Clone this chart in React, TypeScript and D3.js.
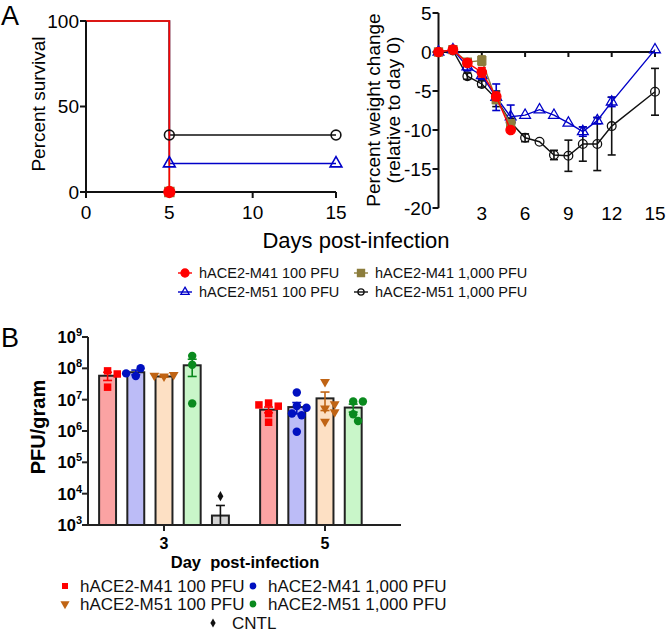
import * as d3 from "d3";

const FONT = "Arial, 'Liberation Sans', sans-serif";

// ---- Panel A: survival ----
const survXTicks = [0, 5, 10, 15];
const survYTicks = [0, 50, 100];
const survM41_100Days = [0, 5];
const survM41_100 = [100, 0];
const survM41_1000Days = [0, 5];
const survM41_1000 = [100, 0];
const survM51_100Days = [0, 5, 15];
const survM51_100 = [100, 16.7, 16.7];
const survM51_1000Days = [0, 5, 15];
const survM51_1000 = [100, 33.3, 33.3];

// ---- Panel A: weight change ----
const weightXTicks = [3, 6, 9, 12, 15];
const weightYTicks = [5, 0, -5, -10, -15, -20];
const weightDays = [0, 1, 2, 3, 4, 5, 6, 7, 8, 9, 10, 11, 12, 15];
const wM41_100 = [0, 0.3, -1.4, -2.6, -5.7, -10.0];
const wM41_100Err = [0, 0.4, 0.4, 0.6, 0.5, 0.3];
const wM41_1000 = [0, 0.3, -1.3, -1.1, -6.1, -9.2];
const wM41_1000Err = [0, 0.3, 0.3, 0.6, 0.5, 0.3];
const wM51_100 = [0, 0.3, -1.9, -3.0, -5.8, -8.3, -8.1, -7.4, -8.1, -9.1, -10.2, -8.8, -6.4, 0.3];
const wM51_100Err = [0.2, 0.3, 0.5, 0.5, 1.7, 1.5, 0, 0, 0, 0, 0.6, 0.4, 0.6, 0];
const wM51_1000 = [0, 0.2, -3.1, -4.1, -6.0, -9.0, -11.0, -11.5, -13.2, -13.3, -11.8, -11.8, -9.5, -5.1];
const wM51_1000Err = [0, 0.3, 0.4, 0.4, 1.0, 0.5, 0.5, 0, 0.6, 2.0, 2.2, 3.4, 3.7, 3.0];

// ---- Panel B: lung titers ----
const loadDays = ["3", "5"];
const loadGroups = ["hACE2-M41 100 PFU", "hACE2-M41 1,000 PFU", "hACE2-M51 100 PFU", "hACE2-M51 1,000 PFU", "CNTL"];
const loadYExps = [3, 4, 5, 6, 7, 8, 9];
const day3Means = [5.8e7, 7.5e7, 5.5e7, 1.25e8, 2e3];
const day3Sem = [1.7e7, 1.3e7, 3e6, 7e7, 2.2e3];
const day5Means = [4.8e6, 5.8e6, 1.1e7, 5.6e6, null];
const day5Sem = [1e6, 2.3e6, 6.5e6, 1.6e6, null];
const day3Points = [
  [8.3e7, 6.6e7, 2.5e7],
  [5.7e7, 1.0e8, 6.9e7],
  [5.6e7, 6.2e7, 5.9e7],
  [2.5e8, 1.3e8, 7.6e6],
  [8.3e3],
];
const day5Points = [
  [7.8e6, 6.2e6, 6.8e6, 3.6e6, 1.9e6],
  [1.7e7, 6.3e6, 5.5e6, 3.6e6, 3.2e6, 9.5e5],
  [3.7e7, 5.3e6, 7.2e6, 4e6, 2e6],
  [8.7e6, 8.7e6, 3.4e6, 2.1e6],
  [],
];

type Shape = "circle" | "square" | "triUp" | "triDown" | "diamond";

const symbolPath = (shape: Shape, size: number) => {
  const type =
    shape === "circle" ? d3.symbolCircle
    : shape === "square" ? d3.symbolSquare
    : shape === "diamond" ? d3.symbolDiamond
    : d3.symbolTriangle;
  return d3.symbol().type(type).size(size)()!;
};

const Marker = ({ x, y, shape, size, fill, stroke, sw = 1.3 }: any) => (
  <path
    d={symbolPath(shape, size)}
    transform={`translate(${x},${y})${shape === "triDown" ? " rotate(180)" : ""}`}
    fill={fill}
    stroke={stroke}
    strokeWidth={sw}
  />
);

const RED = "#ff0000";
const OLIVE = "#8c7d3c";
const BLUE = "#0000c8";
const BLACK = "#111";

// swarm: spread points that overlap vertically
const swarm = (ys: number[], r: number) => {
  const placed: { x: number; y: number }[] = [];
  const out: number[] = new Array(ys.length).fill(0);
  ys.forEach((py, i) => {
    for (const k of [0, 1, -1, 2, -2, 3, -3]) {
      const px = k * r * 1.15;
      if (placed.every((p) => Math.hypot(p.x - px, p.y - py) >= r * 1.9)) {
        placed.push({ x: px, y: py });
        out[i] = px;
        break;
      }
    }
  });
  return out;
};

const SurvivalChart = () => {
  const x = d3.scaleLinear().domain([0, 15]).range([86, 336]);
  const y = d3.scaleLinear().domain([0, 100]).range([192, 21]);
  const line = d3.line<[number, number]>().x((d) => x(d[0])).y((d) => y(d[1])).curve(d3.curveStepAfter);
  const series = [
    { days: survM51_1000Days, vals: survM51_1000, color: BLACK, shape: "circle" as Shape, fill: "none", size: 75 },
    { days: survM51_100Days, vals: survM51_100, color: BLUE, shape: "triUp" as Shape, fill: "none", size: 60 },
    { days: survM41_1000Days, vals: survM41_1000, color: OLIVE, shape: "square" as Shape, fill: OLIVE, size: 80 },
    { days: survM41_100Days, vals: survM41_100, color: RED, shape: "circle" as Shape, fill: RED, size: 90 },
  ];
  return (
    <g fontFamily={FONT}>
      {series.map((s, i) => (
        <path key={i} d={line(s.days.map((d, j) => [d, s.vals[j]]))!} fill="none" stroke={s.color} strokeWidth={1.6} />
      ))}
      <line x1={x(0)} x2={x(15)} y1={y(0)} y2={y(0)} stroke={BLACK} strokeWidth={2} />
      <line x1={x(0)} x2={x(0)} y1={y(0)} y2={y(100)} stroke={BLACK} strokeWidth={2} />
      {survYTicks.map((t) => (
        <g key={t}>
          <line x1={x(0) - 6} x2={x(0)} y1={y(t)} y2={y(t)} stroke={BLACK} strokeWidth={2} />
          <text x={x(0) - 7} y={y(t)} textAnchor="end" dominantBaseline="central" fontSize={19}>{t}</text>
        </g>
      ))}
      {survXTicks.map((t) => (
        <g key={t}>
          <line x1={x(t)} x2={x(t)} y1={y(0)} y2={y(0) + 6} stroke={BLACK} strokeWidth={2} />
          <text x={x(t)} y={212} textAnchor="middle" dominantBaseline="central" fontSize={19}>{t}</text>
        </g>
      ))}
      {series.map((s, i) =>
        s.days.slice(1).map((d, j) => (
          <Marker key={`${i}-${j}`} x={x(d)} y={y(s.vals[j + 1])} shape={s.shape} size={s.size} fill={s.fill} stroke={s.color} sw={1.6} />
        ))
      )}
      <text transform="translate(38,104) rotate(-90)" textAnchor="middle" dominantBaseline="central" fontSize={19}>Percent survival</text>
    </g>
  );
};

const WeightChart = () => {
  const x = d3.scaleLinear().domain([0, 15]).range([438.5, 655]);
  const y = d3.scaleLinear().domain([-20, 5]).range([208, 13]);
  const line = d3.line<[number, number]>().x((d) => x(d[0])).y((d) => y(d[1]));
  const series = [
    { vals: wM51_1000, err: wM51_1000Err, color: BLACK, shape: "circle" as Shape, fill: "none", size: 60 },
    { vals: wM51_100, err: wM51_100Err, color: BLUE, shape: "triUp" as Shape, fill: "none", size: 50 },
    { vals: wM41_1000, err: wM41_1000Err, color: OLIVE, shape: "square" as Shape, fill: OLIVE, size: 64 },
    { vals: wM41_100, err: wM41_100Err, color: RED, shape: "circle" as Shape, fill: RED, size: 70 },
  ];
  return (
    <g fontFamily={FONT}>
      <line x1={x(0)} x2={x(15)} y1={y(0)} y2={y(0)} stroke={BLACK} strokeWidth={2} />
      {weightXTicks.map((t) => (
        <g key={t}>
          <line x1={x(t)} x2={x(t)} y1={y(0)} y2={y(0) + 5} stroke={BLACK} strokeWidth={2} />
          <text x={x(t)} y={213} textAnchor="middle" dominantBaseline="central" fontSize={19}>{t}</text>
        </g>
      ))}
      <line x1={x(0)} x2={x(0)} y1={y(-20)} y2={y(5)} stroke={BLACK} strokeWidth={2} />
      {weightYTicks.map((t) => (
        <g key={t}>
          <line x1={x(0) - 6} x2={x(0)} y1={y(t)} y2={y(t)} stroke={BLACK} strokeWidth={2} />
          <text x={x(0) - 7} y={y(t)} textAnchor="end" dominantBaseline="central" fontSize={19}>{t}</text>
        </g>
      ))}
      {series.map((s, i) => (
        <g key={i}>
          <path d={line(s.vals.map((v, j) => [weightDays[j], v]))!} fill="none" stroke={s.color} strokeWidth={1.4} />
          {s.vals.map((v, j) =>
            s.err[j] > 0 ? (
              <g key={j} stroke={s.color} strokeWidth={1.6}>
                <line x1={x(weightDays[j])} x2={x(weightDays[j])} y1={y(v - s.err[j])} y2={y(v + s.err[j])} />
                <line x1={x(weightDays[j]) - 4} x2={x(weightDays[j]) + 4} y1={y(v - s.err[j])} y2={y(v - s.err[j])} />
                <line x1={x(weightDays[j]) - 4} x2={x(weightDays[j]) + 4} y1={y(v + s.err[j])} y2={y(v + s.err[j])} />
              </g>
            ) : null
          )}
          {s.vals.map((v, j) => (
            <Marker key={`m${j}`} x={x(weightDays[j])} y={y(v)} shape={s.shape} size={s.size} fill={s.fill} stroke={s.color} />
          ))}
        </g>
      ))}
      <text transform="translate(373,110) rotate(-90)" textAnchor="middle" dominantBaseline="central" fontSize={19}>Percent weight change</text>
      <text transform="translate(393,110) rotate(-90)" textAnchor="middle" dominantBaseline="central" fontSize={19}>(relative to day 0)</text>
    </g>
  );
};

const LegendA = () => {
  const items = [
    { label: "hACE2-M41 100 PFU", color: RED, shape: "circle" as Shape, fill: RED, size: 50, cx: 185, cy: 273 },
    { label: "hACE2-M41 1,000 PFU", color: OLIVE, shape: "square" as Shape, fill: OLIVE, size: 50, cx: 361, cy: 273 },
    { label: "hACE2-M51 100 PFU", color: BLUE, shape: "triUp" as Shape, fill: "none", size: 30, cx: 185, cy: 292 },
    { label: "hACE2-M51 1,000 PFU", color: BLACK, shape: "circle" as Shape, fill: "none", size: 30, cx: 361, cy: 292 },
  ];
  return (
    <g fontFamily={FONT}>
      {items.map((it) => (
        <g key={it.label}>
          <line x1={it.cx - 7} x2={it.cx + 7} y1={it.cy} y2={it.cy} stroke={it.color} strokeWidth={1.4} />
          <Marker x={it.cx} y={it.cy} shape={it.shape} size={it.size} fill={it.fill} stroke={it.color} />
          <text x={it.cx + 14} y={it.cy} dominantBaseline="central" fontSize={14.5} fill="#111">{it.label}</text>
        </g>
      ))}
    </g>
  );
};

const LoadChart = () => {
  const y = d3.scaleLog().domain([1e3, 1e9]).range([525, 337]);
  const x0 = d3.scaleBand().domain(loadDays).range([88, 401]).paddingInner(0.124).paddingOuter(0.034);
  const x1 = d3.scaleBand().domain(loadGroups).range([0, x0.bandwidth()]).paddingInner(0.4).paddingOuter(0.2);
  const barFill = ["#fba3a3", "#bcbcf7", "#fde0c4", "#c9f6c9", "#d4d4d4"];
  const ptColor = ["#ff0000", "#0010c0", "#c06414", "#0a8a1e", "#111"];
  const ptShape: Shape[] = ["square", "circle", "triDown", "circle", "diamond"];
  const ptSize = [56, 56, 42, 56, 30];
  const byDay = [
    { day: "3", means: day3Means, sem: day3Sem, pts: day3Points },
    { day: "5", means: day5Means, sem: day5Sem, pts: day5Points },
  ];
  return (
    <g fontFamily={FONT}>
      {byDay.map((d) =>
        loadGroups.map((g, gi) => {
          const m = d.means[gi];
          if (m == null) return null;
          const bx = x0(d.day)! + x1(g)!;
          const cx = bx + x1.bandwidth() / 2;
          const se = d.sem[gi]!;
          const ys = d.pts[gi].map((v) => y(v));
          const offs = swarm(ys, 4.2);
          return (
            <g key={`${d.day}-${g}`}>
              <rect x={bx} y={y(m)} width={x1.bandwidth()} height={525 - y(m)} fill={barFill[gi]} stroke="#222" strokeWidth={2} />
              {d.pts[gi].map((v, k) => (
                <Marker key={k} x={cx + offs[k]} y={y(v)} shape={ptShape[gi]} size={ptSize[gi]} fill={ptColor[gi]} stroke="none" />
              ))}
              <g stroke={ptColor[gi]} strokeWidth={1.6}>
                <line x1={cx} x2={cx} y1={y(Math.max(m - se, 1e3))} y2={y(m + se)} />
                <line x1={cx - 4.5} x2={cx + 4.5} y1={y(m + se)} y2={y(m + se)} />
                {m - se > 1e3 ? <line x1={cx - 4.5} x2={cx + 4.5} y1={y(m - se)} y2={y(m - se)} /> : null}
              </g>
            </g>
          );
        })
      )}
      <line x1={88} x2={401} y1={525} y2={525} stroke="#222" strokeWidth={2} />
      <line x1={88} x2={88} y1={337} y2={525} stroke="#222" strokeWidth={2} />
      {loadYExps.map((e) => (
        <g key={e}>
          <line x1={82} x2={88} y1={y(10 ** e)} y2={y(10 ** e)} stroke="#222" strokeWidth={2} />
          <text x={82} y={y(10 ** e) + 6} textAnchor="end" fontSize={16.5} fontWeight="bold">
            10<tspan dy={-7} fontSize={11}>{e}</tspan>
          </text>
        </g>
      ))}
      {loadDays.map((d) => (
        <g key={d}>
          <line x1={x0(d)! + x0.bandwidth() / 2} x2={x0(d)! + x0.bandwidth() / 2} y1={525} y2={531} stroke="#222" strokeWidth={2} />
          <text x={x0(d)! + x0.bandwidth() / 2} y={543} textAnchor="middle" dominantBaseline="central" fontSize={16} fontWeight="bold">{d}</text>
        </g>
      ))}
      <text x={245} y={562} textAnchor="middle" dominantBaseline="central" fontSize={16.5} fontWeight="bold" style={{ whiteSpace: "pre" }}>Day  post-infection</text>
      <text transform="translate(38,427) rotate(-90)" textAnchor="middle" dominantBaseline="central" fontSize={20} fontWeight="bold">PFU/gram</text>
      {loadGroups.map((g, gi) => {
        const cx = gi === 4 ? 213 : gi % 2 === 0 ? 65 : 253;
        const cy = gi === 4 ? 623 : gi < 2 ? 586 : 604;
        return (
          <g key={g}>
            <Marker x={cx} y={cy} shape={ptShape[gi]} size={gi === 4 ? 24 : 36} fill={ptColor[gi]} stroke="none" />
            <text x={cx + (gi === 4 ? 19 : 15)} y={cy} dominantBaseline="central" fontSize={17} fill="#111">{g}</text>
          </g>
        );
      })}
    </g>
  );
};

export default function App() {
  return (
    <svg width={666} height={635} style={{ position: "absolute", left: 0, top: 0, background: "#fff" }}>
      <text x={1} y={25} fontFamily={FONT} fontSize={27}>A</text>
      <text x={1} y={347} fontFamily={FONT} fontSize={27}>B</text>
      <SurvivalChart />
      <WeightChart />
      <text x={356} y={240} textAnchor="middle" dominantBaseline="central" fontFamily={FONT} fontSize={22}>Days post-infection</text>
      <LegendA />
      <LoadChart />
    </svg>
  );
}
